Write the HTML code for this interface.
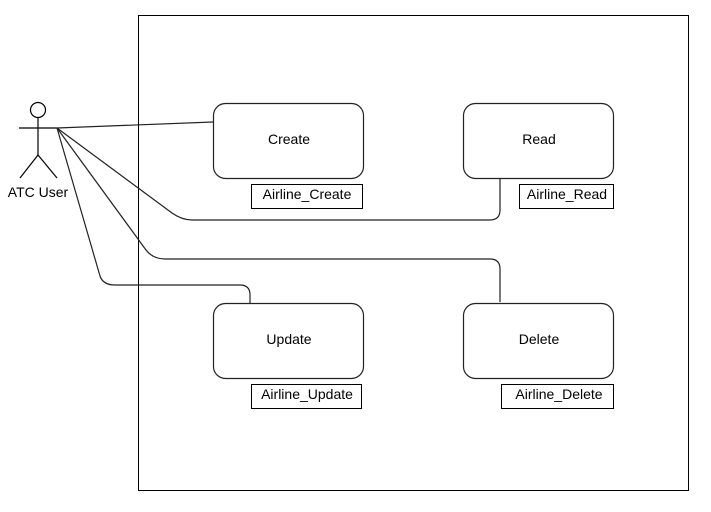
<!DOCTYPE html>
<html><head><meta charset="utf-8"><style>
html,body{margin:0;padding:0;background:#fff;}
svg{display:block;}
text{font-family:"Liberation Sans",Arial,sans-serif;font-size:14px;fill:#000;}
</style></head><body>
<svg width="711" height="512" viewBox="0 0 711 512" xmlns="http://www.w3.org/2000/svg">
<rect x="138.5" y="15.5" width="550" height="475" fill="none" stroke="#000" stroke-width="1"/>
<g fill="none" stroke="#000" stroke-width="1.2">
<circle cx="38" cy="110" r="7.5" fill="#fff"/>
<line x1="38" y1="118" x2="38" y2="155"/>
<line x1="19" y1="128" x2="57" y2="128"/>
<line x1="38" y1="155" x2="20" y2="178"/>
<line x1="38" y1="155" x2="57" y2="178"/>
</g>
<text x="38" y="197" text-anchor="middle">ATC User</text>
<g fill="none" stroke="#222" stroke-width="1.2">
<line x1="57" y1="128" x2="213" y2="122"/>
<path d="M57 128 L172 213 Q182 220 192 220 L490 220 Q500 220 500 210 L500 178"/>
<path d="M57 128 L146 250 Q153 259 165 259 L490 259 Q500 259 500 269 L500 302"/>
<path d="M57 128 L100 276 Q103 285 115 285 L240 285 Q250 285 250 295 L250 303"/>
</g>
<g fill="#fff" stroke="#222" stroke-width="1.2">
<rect x="213.5" y="103.5" width="150" height="75" rx="12"/>
<rect x="463.5" y="103.5" width="150" height="75" rx="12"/>
<rect x="213.5" y="303.5" width="150" height="75" rx="12"/>
<rect x="463.5" y="303.5" width="150" height="75" rx="12"/>
</g>
<text x="289" y="144" text-anchor="middle">Create</text>
<text x="539" y="144" text-anchor="middle">Read</text>
<text x="289" y="344" text-anchor="middle">Update</text>
<text x="539" y="344" text-anchor="middle">Delete</text>
<g fill="none" stroke="#000" stroke-width="1">
<rect x="251.5" y="184.5" width="111" height="24"/>
<rect x="519.5" y="184.5" width="94" height="24"/>
<rect x="251.5" y="384.5" width="110" height="24"/>
<rect x="501.5" y="384.5" width="112" height="24"/>
</g>
<text x="307" y="199" text-anchor="middle">Airline_Create</text>
<text x="567" y="199" text-anchor="middle">Airline_Read</text>
<text x="307" y="399" text-anchor="middle">Airline_Update</text>
<text x="559" y="399" text-anchor="middle">Airline_Delete</text>
</svg>
</body></html>
